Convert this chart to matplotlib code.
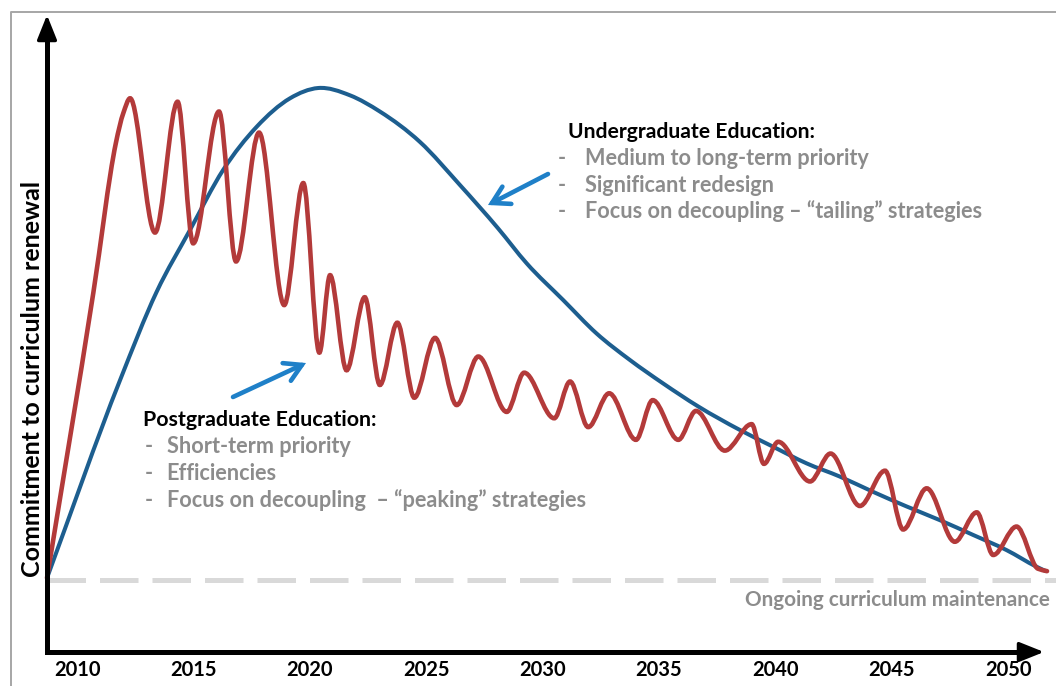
import matplotlib
matplotlib.use('Agg')
import matplotlib.pyplot as plt
from matplotlib.path import Path
from matplotlib.patches import PathPatch, FancyArrowPatch
from matplotlib.lines import Line2D
import numpy as np

plt.rcParams['font.family'] = ['Lato', 'DejaVu Sans']

# ---------------- data ----------------
x_ticks = [2010, 2015, 2020, 2025, 2030, 2035, 2040, 2045, 2050]
x_tick_labels = [str(t) for t in x_ticks]

# Undergraduate education (blue, smooth hump)
ug_years = [2008.71, 2011.85, 2013.42, 2014.85, 2016.28, 2017.72, 2019.15,
            2020.36, 2021.73, 2023.01, 2024.73, 2026.45, 2028.08, 2029.32, 2030.89,
            2032.32, 2033.75, 2035.18, 2036.69, 2038.48, 2039.90, 2041.34, 2042.77,
            2044.19, 2045.64, 2047.07, 2048.49, 2049.93, 2051.22, 2051.62]
ug_values = [0.0, 40.4, 58.4, 71.0, 83.3, 92.1, 97.9,
             100.0, 98.5, 95.2, 89.0, 80.2, 71.4, 64.2, 56.7,
             49.9, 44.5, 39.7, 35.0, 30.2, 26.8, 23.4, 20.7,
             17.6, 14.6, 11.8, 8.8, 5.7, 2.3, 1.4]

# Postgraduate education (red, oscillating) - peaks and troughs
pg_years = [2008.71, 2010.70, 2011.67, 2011.99, 2012.28, 2013.35, 2014.32, 2014.99,
            2016.10, 2016.83, 2017.82, 2018.90, 2019.72, 2020.41, 2020.87, 2021.58,
            2022.36, 2023.01, 2023.76, 2024.49, 2025.38, 2026.31, 2027.24, 2028.46,
            2029.21, 2030.50, 2031.18, 2031.96, 2032.86, 2034.01, 2034.73, 2035.83,
            2036.59, 2037.83, 2038.98, 2039.51, 2040.12, 2041.49, 2042.37, 2043.63,
            2044.71, 2045.49, 2046.50, 2047.71, 2048.65, 2049.36, 2050.36, 2051.28,
            2051.67]
pg_values = [0.0, 58.2, 88.8, 94.9, 97.9, 70.5, 97.2, 68.3,
             95.2, 64.6, 90.9, 55.7, 80.6, 46.0, 61.8, 42.4,
             57.3, 39.4, 52.1, 36.8, 49.0, 35.3, 45.2, 33.9,
             41.9, 32.6, 40.1, 30.8, 37.7, 28.2, 36.3, 28.2,
             34.1, 26.0, 31.4, 23.3, 27.8, 19.7, 25.4, 14.7,
             21.9, 9.9, 18.3, 7.4, 13.4, 4.7, 10.5, 1.9,
             1.4]

baseline_value = -0.5

ug_title = "Undergraduate Education:"
ug_items = ["Medium to long-term priority", "Significant redesign",
            "Focus on decoupling \u2013 \u201ctailing\u201d strategies"]
pg_title = "Postgraduate Education:"
pg_items = ["Short-term priority", "Efficiencies",
            "Focus on decoupling  \u2013 \u201cpeaking\u201d strategies"]
y_label = "Commitment to curriculum renewal"
baseline_label = "Ongoing curriculum maintenance"

# ---------------- styling ----------------
W, H = 1056, 686
RED = '#b33a3a'
BLUE = '#1d5e8f'
ARROW_BLUE = '#1f80c8'
GRAY_TXT = '#8c8c8c'


def smooth_path(xs, ys, monotone=True):
    """Cubic Bezier segments through the points (tangents from neighbouring points)."""
    x = np.asarray(xs, float)
    y = np.asarray(ys, float)
    h = np.diff(x)
    d = np.diff(y) / h
    m = np.zeros_like(x)
    m[0], m[-1] = d[0], d[-1]
    for i in range(1, len(x) - 1):
        if monotone:
            if d[i - 1] * d[i] > 0:
                w1 = 2 * h[i] + h[i - 1]
                w2 = h[i] + 2 * h[i - 1]
                m[i] = (w1 + w2) / (w1 / d[i - 1] + w2 / d[i])
        else:
            m[i] = (h[i] * d[i - 1] + h[i - 1] * d[i]) / (h[i - 1] + h[i])
    verts = [(x[0], y[0])]
    codes = [Path.MOVETO]
    for i in range(len(x) - 1):
        verts += [(x[i] + h[i] / 3, y[i] + m[i] * h[i] / 3),
                  (x[i + 1] - h[i] / 3, y[i + 1] - m[i + 1] * h[i] / 3),
                  (x[i + 1], y[i + 1])]
        codes += [Path.CURVE4] * 3
    return Path(verts, codes)


fig = plt.figure(figsize=(W / 100, H / 100), dpi=100)
fig.patch.set_facecolor('white')

# light frame (left and top)
fig.add_artist(Line2D([10.7 / W, 10.7 / W, 1.0], [0.0, 1 - 12 / H, 1 - 12 / H],
                      transform=fig.transFigure, color='#a6a6a6', lw=1.4))

ax = fig.add_axes([47 / W, 34 / H, 997 / W, 637 / H])
xmin, xmax = 2008.71, 2051.54
ymin, ymax = -15.1, 114.9
ax.set_xlim(xmin, xmax)
ax.set_ylim(ymin, ymax)
for s in ax.spines.values():
    s.set_visible(False)
ax.set_xticks(x_ticks)
ax.set_xticklabels(x_tick_labels, fontsize=14.5, fontweight='bold', color='black')
ax.tick_params(axis='x', length=0, pad=6)
ax.set_yticks([])
ax.set_ylabel(y_label, fontsize=18, fontweight='bold', color='black', va='center')
ax.yaxis.set_label_coords(-14 / 997, (652 - 379) / 637)

# axes lines with arrowheads
ax.plot([xmin, xmin, xmax - 0.6], [ymax - 3, ymin, ymin], color='black', lw=3.6,
        clip_on=False, solid_joinstyle='miter', solid_capstyle='butt', zorder=5)
arrow_style = '-|>,head_length=0.75,head_width=0.3'
ax.annotate('', xy=(xmin, ymax), xytext=(xmin, ymax - 6), annotation_clip=False,
            arrowprops=dict(arrowstyle=arrow_style, color='black', lw=2.5,
                            mutation_scale=20, shrinkA=0, shrinkB=0), zorder=5)
ax.annotate('', xy=(xmax, ymin), xytext=(xmax - 1.5, ymin), annotation_clip=False,
            arrowprops=dict(arrowstyle=arrow_style, color='black', lw=2.5,
                            mutation_scale=20, shrinkA=0, shrinkB=0), zorder=5)

# dashed baseline
ax.plot([xmin, 2052.05], [baseline_value, baseline_value], color='#d9d9d9', lw=3.6,
        dashes=(7.7, 2.8), clip_on=False, zorder=1, solid_capstyle='butt')

# curves
ax.add_patch(PathPatch(smooth_path(ug_years, ug_values, monotone=False), fill=False,
                       edgecolor=BLUE, lw=2.9, capstyle='round', clip_on=False, zorder=3))
ax.add_patch(PathPatch(smooth_path(pg_years, pg_values), fill=False, edgecolor=RED,
                       lw=3.3, capstyle='round', clip_on=False, zorder=4))


def fx(px):
    return px / W


def fy(py):
    return 1 - py / H


FS_HEAD = 15.2
FS_ITEM = 15.6
# Undergraduate block
fig.text(fx(568), fy(138), ug_title, fontsize=FS_HEAD, fontweight='bold', color='black',
         va='baseline')
for i, item in enumerate(ug_items):
    yy = fy(165 + i * 26.7)
    fig.text(fx(558), yy, '-', fontsize=FS_ITEM, fontweight='bold', color=GRAY_TXT, va='baseline')
    fig.text(fx(585), yy, item, fontsize=FS_ITEM, fontweight='bold', color=GRAY_TXT, va='baseline')

# Postgraduate block
fig.text(fx(143), fy(425.7), pg_title, fontsize=15.4, fontweight='bold', color='black',
         va='baseline')
for i, item in enumerate(pg_items):
    yy = fy(453 + i * 27)
    fig.text(fx(145), yy, '-', fontsize=FS_ITEM, fontweight='bold', color=GRAY_TXT, va='baseline')
    fig.text(fx(166.7), yy, item, fontsize=FS_ITEM, fontweight='bold', color=GRAY_TXT, va='baseline')

# baseline label
fig.text(fx(1050), fy(606), baseline_label, fontsize=14.9, fontweight='bold', color=GRAY_TXT,
         va='baseline', ha='right')

# pointer arrows
ptr = dict(arrowstyle='->,head_length=0.6,head_width=0.35', color=ARROW_BLUE, lw=3.3,
           mutation_scale=20, shrinkA=0, shrinkB=0, capstyle='round', joinstyle='miter')
fig.add_artist(FancyArrowPatch((548, H - 174), (488, H - 205), transform=None, **ptr))
fig.add_artist(FancyArrowPatch((233, H - 397), (306, H - 363), transform=None, **ptr))

fig.savefig('out.png', dpi=100, facecolor='white')
